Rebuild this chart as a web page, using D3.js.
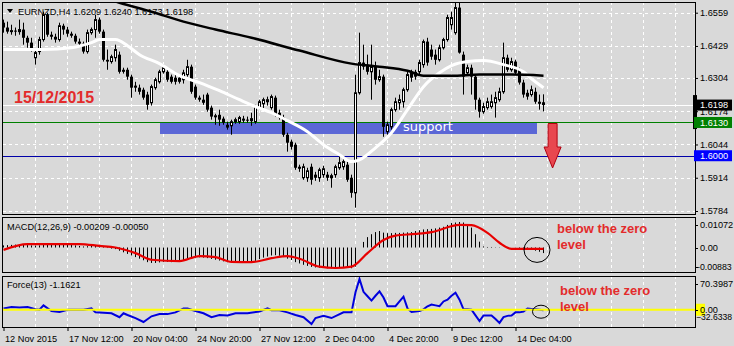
<!DOCTYPE html>
<html><head><meta charset="utf-8">
<script src="https://cdn.jsdelivr.net/npm/d3@7/dist/d3.min.js"></script>
<style>
html,body{margin:0;padding:0;background:#d9d9d9;}
svg{display:block;font-family:"Liberation Sans",Arial,sans-serif;}
</style></head><body>
<svg id="c" width="734" height="346"></svg>
<script>
// ---------------- DATA ----------------
const symbolTitle = "EURNZD,H4  1.6209 1.6240 1.6173 1.6198";
const dateNote = "15/12/2015";
const timeLabels = ["12 Nov 2015","17 Nov 12:00","20 Nov 04:00","24 Nov 20:00","27 Nov 12:00","2 Dec 04:00","4 Dec 20:00","9 Dec 12:00","14 Dec 04:00"];
const timeLabelIdx = [0,16,32,48,64,80,96,112,128];
const priceTicks = [1.6559,1.6429,1.6304,1.6174,1.6044,1.5914,1.5784];

const open = [1.6520,1.6501,1.6485,1.6489,1.6485,1.6493,1.6461,1.6442,1.6383,1.6407,
1.6454,1.6551,1.6473,1.6465,1.6454,1.6508,1.6493,1.6477,1.6469,1.6446,
1.6438,1.6407,1.6481,1.6493,1.6532,1.6485,1.6375,1.6368,1.6383,1.6395,
1.6336,1.6336,1.6309,1.6274,1.6266,1.6258,1.6239,1.6207,1.6266,1.6289,
1.6328,1.6328,1.6309,1.6305,1.6305,1.6297,1.6317,1.6348,1.6270,1.6227,
1.6219,1.6239,1.6188,1.6153,1.6160,1.6145,1.6121,1.6117,1.6133,1.6133,
1.6145,1.6141,1.6137,1.6133,1.6188,1.6203,1.6211,1.6188,1.6227,1.6168,
1.6149,1.6082,1.6055,1.6043,1.5957,1.5914,1.5914,1.5957,1.5926,1.5914,
1.5926,1.5926,1.5914,1.5926,1.5953,1.5957,1.5965,1.5914,1.5855,1.6246,
1.6364,1.6356,1.6328,1.6348,1.6297,1.6309,1.6094,1.6113,1.6180,1.6207,
1.6211,1.6258,1.6324,1.6328,1.6328,1.6356,1.6446,1.6415,1.6395,1.6375,
1.6422,1.6454,1.6512,1.6481,1.6579,1.6395,1.6324,1.6344,1.6309,1.6219,
1.6172,1.6188,1.6192,1.6207,1.6219,1.6250,1.6383,1.6336,1.6368,1.6336,
1.6286,1.6246,1.6239,1.6250,1.6211,1.6209];
const high = [1.6532,1.6524,1.6512,1.6501,1.6532,1.6520,1.6469,1.6461,1.6415,1.6465,
1.6563,1.6559,1.6485,1.6477,1.6520,1.6516,1.6504,1.6485,1.6477,1.6458,
1.6446,1.6493,1.6501,1.6551,1.6540,1.6493,1.6415,1.6395,1.6434,1.6407,
1.6344,1.6344,1.6317,1.6289,1.6278,1.6266,1.6250,1.6278,1.6305,1.6336,
1.6356,1.6344,1.6317,1.6317,1.6313,1.6336,1.6375,1.6356,1.6278,1.6235,
1.6239,1.6246,1.6196,1.6164,1.6180,1.6153,1.6133,1.6141,1.6149,1.6156,
1.6156,1.6153,1.6168,1.6199,1.6219,1.6227,1.6231,1.6239,1.6235,1.6180,
1.6160,1.6090,1.6063,1.6051,1.5965,1.5969,1.5953,1.5969,1.5937,1.5953,
1.5961,1.5937,1.5930,1.5965,1.6004,1.5992,1.5977,1.5926,1.6317,1.6481,
1.6434,1.6395,1.6434,1.6368,1.6336,1.6317,1.6133,1.6188,1.6227,1.6239,
1.6266,1.6328,1.6336,1.6336,1.6375,1.6454,1.6461,1.6434,1.6415,1.6434,
1.6461,1.6551,1.6563,1.6602,1.6602,1.6407,1.6356,1.6356,1.6317,1.6227,
1.6207,1.6227,1.6239,1.6250,1.6266,1.6442,1.6395,1.6383,1.6375,1.6344,
1.6297,1.6258,1.6274,1.6266,1.6239,1.6240];
const low = [1.6481,1.6477,1.6473,1.6469,1.6473,1.6434,1.6422,1.6407,1.6356,1.6395,
1.6446,1.6465,1.6454,1.6442,1.6446,1.6473,1.6465,1.6461,1.6438,1.6426,
1.6399,1.6399,1.6473,1.6461,1.6477,1.6368,1.6336,1.6360,1.6368,1.6321,
1.6321,1.6297,1.6227,1.6250,1.6239,1.6219,1.6180,1.6196,1.6258,1.6282,
1.6321,1.6289,1.6282,1.6278,1.6282,1.6282,1.6309,1.6242,1.6219,1.6211,
1.6199,1.6172,1.6141,1.6121,1.6117,1.6121,1.6102,1.6082,1.6125,1.6125,
1.6129,1.6129,1.6117,1.6125,1.6180,1.6180,1.6196,1.6180,1.6153,1.6141,
1.6074,1.6016,1.6024,1.5945,1.5937,1.5906,1.5898,1.5887,1.5902,1.5898,
1.5914,1.5902,1.5875,1.5914,1.5945,1.5945,1.5898,1.5836,1.5797,1.6239,
1.6336,1.6317,1.6219,1.6278,1.6289,1.6074,1.6082,1.6102,1.6172,1.6180,
1.6188,1.6250,1.6289,1.6297,1.6317,1.6344,1.6352,1.6375,1.6356,1.6368,
1.6415,1.6446,1.6493,1.6473,1.6399,1.6239,1.6313,1.6239,1.6180,1.6149,
1.6164,1.6180,1.6184,1.6149,1.6211,1.6242,1.6328,1.6328,1.6317,1.6278,
1.6227,1.6219,1.6231,1.6203,1.6180,1.6173];
const close = [1.6501,1.6485,1.6489,1.6485,1.6493,1.6461,1.6442,1.6415,1.6403,1.6454,
1.6551,1.6473,1.6465,1.6454,1.6508,1.6493,1.6477,1.6469,1.6446,1.6438,
1.6407,1.6481,1.6493,1.6532,1.6485,1.6375,1.6368,1.6387,1.6415,1.6328,
1.6328,1.6309,1.6266,1.6266,1.6250,1.6227,1.6199,1.6270,1.6297,1.6328,
1.6344,1.6297,1.6289,1.6289,1.6289,1.6324,1.6348,1.6250,1.6227,1.6219,
1.6207,1.6180,1.6153,1.6156,1.6141,1.6129,1.6110,1.6133,1.6141,1.6149,
1.6137,1.6137,1.6145,1.6192,1.6211,1.6219,1.6219,1.6231,1.6160,1.6149,
1.6082,1.6051,1.6035,1.5953,1.5949,1.5957,1.5941,1.5906,1.5914,1.5945,
1.5949,1.5914,1.5922,1.5957,1.5973,1.5977,1.5906,1.5855,1.6246,1.6364,
1.6348,1.6328,1.6348,1.6297,1.6309,1.6113,1.6121,1.6180,1.6211,1.6219,
1.6258,1.6317,1.6305,1.6309,1.6364,1.6446,1.6364,1.6387,1.6375,1.6422,
1.6454,1.6540,1.6540,1.6579,1.6403,1.6309,1.6344,1.6309,1.6219,1.6172,
1.6192,1.6211,1.6211,1.6227,1.6250,1.6383,1.6336,1.6368,1.6324,1.6286,
1.6239,1.6231,1.6258,1.6211,1.6203,1.6198];

// moving averages: [bar index, value]
const maWhite = [[0,1.6415],[10,1.6415],[17,1.6422],[22,1.6442],[24,1.6454],[28,1.6454],[31,1.6430],[34,1.6395],[39,1.6360],[44,1.6313],[49,1.6286],[54,1.6254],[59,1.6219],[63,1.6192],[67,1.6168],[71,1.6137],[76,1.6094],[80,1.6043],[84,1.6004],[87,1.5977],[89,1.5984],[93,1.6031],[97,1.6090],[101,1.6180],[105,1.6270],[109,1.6324],[112,1.6352],[116,1.6368],[120,1.6372],[125,1.6356],[130,1.6328],[132,1.6301],[135,1.6266]];
const maBlack = [[0,1.6747],[15,1.6673],[29,1.6598],[37,1.6563],[45,1.6524],[53,1.6493],[62,1.6461],[74,1.6411],[87,1.6360],[94,1.6348],[101,1.6332],[105,1.6313],[112,1.6313],[119,1.6317],[127,1.6317],[135,1.6313]];

const bidPrice = 1.6198, greenLevel = 1.6130, blueLevel = 1.6000;
const supportZone = {from:39.25, to:133.5, top:1.6128, bottom:1.6085, label:"support"};
const downArrow = {idx:137.4, from:1.6126, to:1.5952};

const macdTitle = "MACD(12,26,9) -0.00209 -0.00050";
const macdRange = [-0.00883, 0.01072];
const macdHist = [
0.0008,0.0009,0.0010,0.0011,0.0011,0.0010,0.0009,0.0008,0.0007,0.0008,
0.0011,0.0012,0.0012,0.0011,0.0012,0.0012,0.0011,0.0010,0.0008,0.0006,
0.0004,0.0005,0.0006,0.0008,0.0007,0.0002,-0.0002,-0.0004,-0.0006,-0.0012,
-0.0018,-0.0024,-0.0030,-0.0036,-0.0042,-0.0048,-0.0055,-0.0058,-0.0058,-0.0056,
-0.0054,-0.0054,-0.0055,-0.0054,-0.0052,-0.0048,-0.0042,-0.0040,-0.0038,-0.0037,
-0.0038,-0.0040,-0.0043,-0.0046,-0.0049,-0.0052,-0.0055,-0.0056,-0.0057,-0.0058,
-0.0058,-0.0057,-0.0055,-0.0050,-0.0044,-0.0038,-0.0034,-0.0030,-0.0029,-0.0031,
-0.0036,-0.0042,-0.0047,-0.0055,-0.0060,-0.0065,-0.0069,-0.0073,-0.0075,-0.0076,
-0.0077,-0.0078,-0.0078,-0.0077,-0.0075,-0.0073,-0.0074,-0.0078,-0.0072,0.0000,
0.0021,0.0039,0.0050,0.0058,0.0062,0.0056,0.0054,0.0054,0.0055,0.0055,
0.0056,0.0057,0.0058,0.0062,0.0065,0.0068,0.0069,0.0070,0.0072,0.0075,
0.0078,0.0085,0.0092,0.0094,0.0096,0.0094,0.0088,0.0075,0.0050,0.0022,
0.0004,0.0002,0.0002,0.0001,0.0001,0.0000,0.0001,0.0000,-0.0001,-0.0002,
-0.0004,-0.0007,-0.0009,-0.0012,-0.0016,-0.00209];
const macdSignal = [[0,-0.0009],[6,0.0013],[19,0.0013],[24,0.0006],[28,0.0000],[33,-0.0021],[37,-0.0046],[44,-0.0051],[49,-0.0032],[53,-0.0036],[57,-0.0054],[62,-0.0055],[67,-0.0040],[71,-0.0032],[74,-0.0042],[79,-0.0072],[83,-0.0077],[87,-0.0072],[91,-0.0021],[95,0.0028],[98,0.0045],[103,0.0051],[107,0.0058],[114,0.0085],[117,0.0084],[121,0.0055],[124,0.0018],[127,-0.0005],[135,-0.0005]];

const forceTitle = "Force(13) -1.1621";
const forceRange = [-32.6338, 70.3987];
const forceIndex = [[0,3],[2,6],[4,5],[6,6],[8,1],[9,0],[10,10],[12,-3],[14,-5],[16,0],[20,0],[22,3],[23,-6],[25,-7],[27,-8],[29,-17],[30,-8],[31,-12],[33,-19],[35,-28],[37,-15],[39,-10],[41,-10],[43,-6],[45,3],[46,3],[48,-3],[50,-8],[52,-17],[54,-12],[56,-13],[58,-8],[61,-8],[64,-4],[66,3],[67,-1],[69,-1],[71,-6],[73,-12],[75,-17],[77,-32.6338],[78,-19],[80,-14],[82,-19],[85,-6],[87,-6],[88,40],[89,70.3987],[90,41],[91,31],[92,21],[93,32],[94,42],[95,28],[96,8],[97,8],[98,8],[99,19],[100,30],[101,3],[102,-5],[103,-4],[104,-3],[105,1],[106,8],[107,12],[108,10],[109,8],[110,19],[111,23],[112,32],[113,39],[114,23],[115,1],[116,1],[117,0],[118,-13],[119,-26],[120,-13],[121,-13],[122,-13],[123,-21],[124,-30],[125,-17],[126,-14],[127,-13],[128,-6],[129,-6],[130,-4],[131,3],[132,2],[133,1],[134,0],[135,-1.1621]];

const noteLines = ["below the zero","level"];
const macdMark = {idx:133.5, value:-0.0009};
const forceMark = {idx:134.5, value:-4.5};

// ---------------- LAYOUT ----------------
const L = 3, R = 695;
const P = {main:{t:2,b:215}, macd:{t:217,b:273}, force:{t:276,b:328}};
const RED = "#e32b2b";
const FS = 9.2;

const svg = d3.select("#c");
svg.append("rect").attr("width",734).attr("height",346).attr("fill","#d9d9d9");

const x = d3.scaleLinear().domain([0,135]).range([3,543]);
const y = d3.scaleLinear().domain([1.5784,1.6559]).range([211,12.7]);
const ym = d3.scaleLinear().domain(macdRange).range([271,219]);
const yf = d3.scaleLinear().domain(forceRange).range([324,279]);
const cx = i => Math.round(x(i));

const defs = svg.append("defs");
Object.entries(P).forEach(([k,p])=>{
  defs.append("clipPath").attr("id","clip-"+k).append("rect")
    .attr("x",L).attr("y",p.t+1).attr("width",R-L).attr("height",p.b-p.t-1);
});

// grid
const gridIdx = d3.range(8,176,8).filter(i=>x(i)<R-2);
Object.entries(P).forEach(([k,p])=>{
  const g = svg.append("g").attr("clip-path",`url(#clip-${k})`);
  g.selectAll("line.v").data(gridIdx).join("line")
    .attr("x1",d=>cx(d)+0.5).attr("x2",d=>cx(d)+0.5).attr("y1",p.t).attr("y2",p.b)
    .attr("stroke","#fff").attr("stroke-dasharray","3,3");
});
const gm = svg.append("g").attr("clip-path","url(#clip-main)");
gm.selectAll("line.h").data(priceTicks).join("line")
  .attr("x1",L).attr("x2",R).attr("y1",d=>Math.round(y(d))+0.5).attr("y2",d=>Math.round(y(d))+0.5)
  .attr("stroke","#fff").attr("stroke-dasharray","3,3");

// support zone (background object)
gm.append("rect").attr("x",x(supportZone.from)).attr("width",x(supportZone.to)-x(supportZone.from))
  .attr("y",y(supportZone.top)).attr("height",y(supportZone.bottom)-y(supportZone.top))
  .attr("fill","#5b67d6");

// levels
[[bidPrice,"#ffffff"],[greenLevel,"#008000"],[blueLevel,"#0000a8"]].forEach(([v,c])=>{
  gm.append("line").attr("x1",L).attr("x2",R).attr("y1",Math.round(y(v))+0.5).attr("y2",Math.round(y(v))+0.5)
    .attr("stroke",c).attr("stroke-width",1);
});

// candles
const candles = open.map((o,i)=>({i,o,h:high[i],l:low[i],c:close[i]}));
gm.selectAll("line.wick").data(candles).join("line")
  .attr("x1",d=>cx(d.i)+0.5).attr("x2",d=>cx(d.i)+0.5)
  .attr("y1",d=>y(d.h)).attr("y2",d=>y(d.l)).attr("stroke","#000");
gm.selectAll("rect.body").data(candles).join("rect")
  .attr("x",d=>d.c>=d.o ? cx(d.i)-0.5 : cx(d.i)-1)
  .attr("width",d=>d.c>=d.o ? 2 : 3)
  .attr("y",d=>y(Math.max(d.o,d.c)))
  .attr("height",d=>Math.max(1,Math.abs(y(d.o)-y(d.c))))
  .attr("fill",d=>d.c>=d.o ? "#fff" : "#000")
  .attr("stroke",d=>d.c>=d.o ? "#000" : "none").attr("stroke-width",1);

// moving averages
const lineP = d3.line().x(d=>x(d[0])+0.5).y(d=>y(d[1])).curve(d3.curveMonotoneX);
gm.append("path").attr("d",lineP(maWhite)).attr("fill","none").attr("stroke","#fff").attr("stroke-width",3);
gm.append("path").attr("d",lineP(maBlack)).attr("fill","none").attr("stroke","#000").attr("stroke-width",2.5);

// support label
gm.append("text").attr("x",403).attr("y",y(supportZone.bottom)-3).text(supportZone.label)
  .attr("fill","#fff").attr("font-family","'DejaVu Sans',sans-serif").attr("font-size",13);

// arrow
{
  const ax = x(downArrow.idx), y0 = y(downArrow.from), y1 = y(downArrow.to), hb = y1-21;
  svg.append("path").attr("d",`M${ax-4.5},${y0}L${ax+4.5},${y0}L${ax+4.5},${hb}L${ax+8.5},${hb}L${ax},${y1}L${ax-8.5},${hb}L${ax-4.5},${hb}Z`)
    .attr("fill","#e8474f").attr("stroke","#b00010").attr("stroke-width",1);
}

// date note
svg.append("text").attr("x",14).attr("y",102.5).text(dateNote)
  .attr("fill",RED).attr("font-size",16).attr("font-weight","bold");

// title
svg.append("path").attr("d","M7,9L13,9L10,13Z").attr("fill","#000");
svg.append("text").attr("x",18).attr("y",14.5).text(symbolTitle).attr("font-size",FS).attr("fill","#000");

// ---- MACD ----
const gM = svg.append("g").attr("clip-path","url(#clip-macd)");
gM.selectAll("line.h").data(macdHist).join("line")
  .attr("x1",(d,i)=>cx(i)+0.5).attr("x2",(d,i)=>cx(i)+0.5)
  .attr("y1",ym(0)).attr("y2",d=>ym(d)).attr("stroke","#000");
gM.append("path").attr("d",d3.line().x(d=>x(d[0])+0.5).y(d=>ym(d[1])).curve(d3.curveMonotoneX)(macdSignal))
  .attr("fill","none").attr("stroke","#e80000").attr("stroke-width",2.2);
svg.append("text").attr("x",7).attr("y",229.5).text(macdTitle).attr("font-size",FS);
svg.append("ellipse").attr("cx",x(macdMark.idx)).attr("cy",ym(macdMark.value)).attr("rx",13).attr("ry",12.5)
  .attr("fill","none").attr("stroke","#000");
noteLines.forEach((t,k)=>svg.append("text").attr("x",557).attr("y",232.5+16*k).text(t)
  .attr("fill",RED).attr("font-size",13).attr("font-weight","bold"));

// ---- Force ----
const gF = svg.append("g").attr("clip-path","url(#clip-force)");
gF.append("path").attr("d",d3.line().x(d=>x(d[0])+0.5).y(d=>yf(d[1]))(forceIndex))
  .attr("fill","none").attr("stroke","#0000dd").attr("stroke-width",2);
gF.append("line").attr("x1",L).attr("x2",R).attr("y1",yf(0)).attr("y2",yf(0)).attr("stroke","#ffff00").attr("stroke-width",2);
svg.append("text").attr("x",7).attr("y",287.5).text(forceTitle).attr("font-size",FS);
svg.append("ellipse").attr("cx",x(forceMark.idx)).attr("cy",yf(forceMark.value)).attr("rx",8.5).attr("ry",6.5)
  .attr("fill","none").attr("stroke","#000");
noteLines.forEach((t,k)=>svg.append("text").attr("x",560).attr("y",294.5+16*k).text(t)
  .attr("fill",RED).attr("font-size",13).attr("font-weight","bold"));

// ---- frames ----
Object.values(P).forEach(p=>{
  svg.append("rect").attr("x",L-0.5).attr("y",p.t+0.5).attr("width",R-L+1).attr("height",p.b-p.t-1)
    .attr("fill","none").attr("stroke","#000");
});

// ---- right axes ----
const axMain = svg.append("g").attr("transform",`translate(${R},0)`)
  .call(d3.axisRight(y).tickValues(priceTicks).tickSize(3).tickPadding(2).tickFormat(d3.format(".4f")));
axMain.select(".domain").remove();
axMain.selectAll("text").attr("font-size",FS).attr("font-family","'Liberation Sans',Arial,sans-serif");

function sideLabel(v, scale, p, txt, dx, fs){
  const yy = Math.max(p.t+8, Math.min(p.b-6, scale(v)));
  svg.append("line").attr("x1",R).attr("x2",R+3).attr("y1",Math.round(yy)+0.5).attr("y2",Math.round(yy)+0.5).attr("stroke","#000");
  return svg.append("text").attr("x",R+(dx||5)).attr("y",yy).attr("dy","0.35em").text(txt).attr("font-size",fs||FS);
}
sideLabel(macdRange[1], ym, P.macd, "0.01072");
sideLabel(0, ym, P.macd, "0.00");
sideLabel(macdRange[0], ym, P.macd, "-0.00883", 2, 8.8);
sideLabel(forceRange[1], yf, P.force, "70.3987");
svg.append("rect").attr("x",R+1).attr("y",yf(0)-6).attr("width",9).attr("height",12).attr("fill","#ffff00");
sideLabel(0, yf, P.force, "0.00");
svg.append("text").attr("x",R+1).attr("y",317).attr("dy","0.35em").text(d3.format(".4f")(forceRange[0])).attr("font-size",8.6);

// price boxes
function priceBox(v, bg){
  const yy = y(v);
  svg.append("rect").attr("x",R-1).attr("y",yy-5.5).attr("width",38).attr("height",11).attr("fill",bg);
  svg.append("text").attr("x",R+5).attr("y",yy).attr("dy","0.35em").text(d3.format(".4f")(v)).attr("fill","#fff").attr("font-size",FS);
}
svg.append("rect").attr("x",R-2).attr("y",y(bidPrice)-10).attr("width",4).attr("height",34).attr("fill","#000");
priceBox(bidPrice,"#000");
priceBox(greenLevel,"#008000");
priceBox(blueLevel,"#0000ff");

// ---- bottom axis ----
const axB = svg.append("g").attr("transform",`translate(0.5,${P.force.b})`)
  .call(d3.axisBottom(x).tickValues(timeLabelIdx).tickSize(3).tickPadding(4).tickFormat((d,i)=>timeLabels[i]));
axB.select(".domain").remove();
axB.selectAll("text").attr("text-anchor","start").attr("x",1).attr("font-size",FS).attr("font-family","'Liberation Sans',Arial,sans-serif");
</script>
</body></html>
